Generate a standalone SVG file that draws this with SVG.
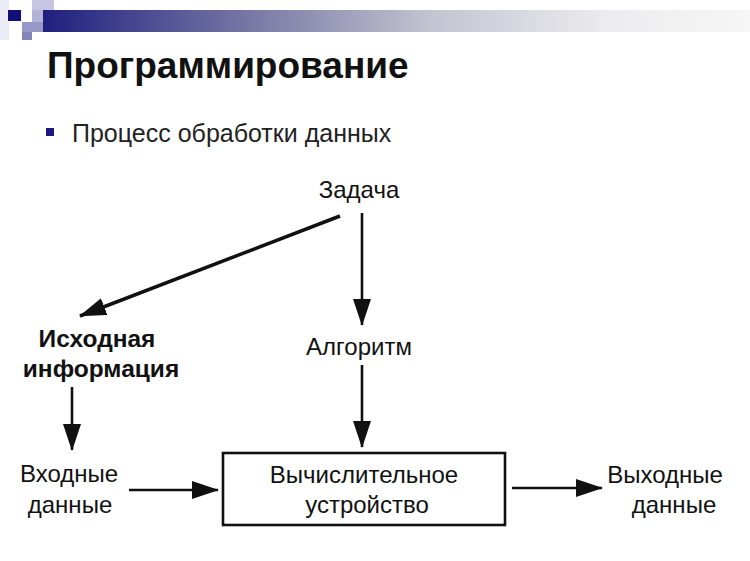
<svg xmlns="http://www.w3.org/2000/svg" width="750" height="561" viewBox="0 0 750 561">
<defs>
<linearGradient id="bar" x1="0" y1="0" x2="1" y2="0">
<stop offset="0" stop-color="#1f1f80"/>
<stop offset="0.3" stop-color="#7a7aa6"/>
<stop offset="0.55" stop-color="#c4c4d2"/>
<stop offset="0.8" stop-color="#ececee"/>
<stop offset="1" stop-color="#f6f6f6"/>
</linearGradient>
<marker id="ah" markerUnits="userSpaceOnUse" markerWidth="28" markerHeight="20" refX="26" refY="9" orient="auto">
<path d="M0,0 L27,9 L0,18 Z" fill="#111"/>
</marker>
<style>
.t{font-family:"Liberation Sans",Arial,sans-serif;fill:#111;font-size:24px;text-anchor:middle}
.b{font-weight:bold;font-size:24.5px}
.c{stroke:#111;stroke-width:2.6;fill:none;marker-end:url(#ah)}
</style>
</defs>
<rect width="750" height="561" fill="#fff"/>
<g id="decor">
<rect x="0" y="0" width="9" height="40" fill="#ececf6"/>
<rect x="32" y="0" width="22" height="11" fill="#c6c6e2"/>
<rect x="43" y="10" width="707" height="22" fill="url(#bar)"/>
<rect x="32" y="10" width="11" height="12" fill="#b4b4d8"/>
<rect x="22" y="22" width="21" height="10" fill="#9898c8"/>
<rect x="22" y="32" width="10" height="8" fill="#8484b8"/>
<rect x="8" y="10" width="13" height="11" fill="#10107a"/>
</g>
<g id="title">
<text x="47" y="78" style="font-family:'Liberation Sans',Arial,sans-serif;font-weight:bold;font-size:37px;fill:#111">Программирование</text>
</g>
<g id="bullet">
<rect x="46" y="128" width="8" height="8" fill="#1a1a80"/>
<text x="72" y="142" style="font-family:'Liberation Sans',Arial,sans-serif;font-size:25px;fill:#222">Процесс обработки данных</text>
</g>
<g id="connectors">
<line class="c" x1="362" y1="213" x2="362" y2="325"/>
<line class="c" x1="362" y1="365" x2="362" y2="447"/>
<line class="c" x1="340" y1="216" x2="80" y2="316" style="stroke-width:3.5"/>
<line class="c" x1="72" y1="387" x2="72" y2="450"/>
<line class="c" x1="129" y1="490" x2="218" y2="490"/>
<line class="c" x1="512" y1="488" x2="602" y2="488"/>
</g>
<g id="zadacha"><text class="t" x="359" y="198">Задача</text></g>
<g id="algoritm"><text class="t" x="359" y="355">Алгоритм</text></g>
<g id="ishodnaya"><text class="t b" x="97" y="347">Исходная</text><text class="t b" x="101" y="377">информация</text></g>
<g id="vhodnye"><text class="t" x="69" y="482">Входные</text><text class="t" x="70" y="513">данные</text></g>
<g id="vu"><rect x="223" y="453" width="282" height="72" fill="none" stroke="#111" stroke-width="2.6"/><text class="t" x="364" y="483">Вычислительное</text><text class="t" x="367" y="513">устройство</text></g>
<g id="vyhodnye"><text class="t" x="665" y="483">Выходные</text><text class="t" x="674" y="513">данные</text></g>
</svg>
